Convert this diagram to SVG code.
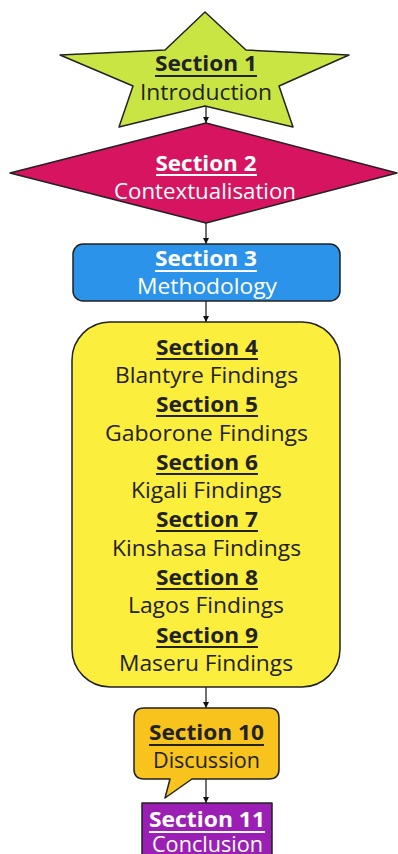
<svg xmlns="http://www.w3.org/2000/svg" width="398" height="854" viewBox="0 0 398 854">
<defs>
<style>
.shape{stroke:#222;stroke-width:1.5;stroke-linejoin:round}
.t{font-family:"Open Sans","Noto Sans","Liberation Sans",sans-serif;font-size:22px;text-anchor:middle}
.b{font-weight:700}
.dark{fill:#222}
.light{fill:#fff}
.ulD{stroke:#222;stroke-width:2}
.ulL{stroke:#fff;stroke-width:2}
.conn{stroke:#111;stroke-width:1.2;fill:none;marker-end:url(#ah)}
</style>
<marker id="ah" viewBox="0 0 10 10" refX="10" refY="5" markerWidth="6" markerHeight="7" markerUnits="userSpaceOnUse" orient="auto">
<path d="M0,0 L10,5 L0,10 Z" fill="#111"/>
</marker>
</defs>
<rect width="398" height="854" fill="#fff"/>

<g id="connectors">
<line class="conn" x1="206" y1="106" x2="206" y2="123"/>
<line class="conn" x1="206" y1="223" x2="206" y2="244"/>
<line class="conn" x1="206" y1="301" x2="206" y2="322"/>
<line class="conn" x1="206" y1="687" x2="206" y2="708"/>
<line class="conn" x1="206" y1="779" x2="206" y2="803"/>
</g>

<g id="section1">
<polygon class="shape" fill="#c9e544" points="205,12 246,50 349,55 279,86 293,127 205,106 119,127 133,86 60,55 165,50"/>
<text class="t b dark" x="206" y="71" textLength="102" lengthAdjust="spacingAndGlyphs">Section 1</text>
<line class="ulD" x1="155" y1="76" x2="257" y2="76"/>
<text class="t dark" x="206" y="100" textLength="132" lengthAdjust="spacingAndGlyphs">Introduction</text>
</g>

<g id="section2">
<polygon class="shape" fill="#d6145f" points="206,123 397,173 206,223 10,173"/>
<text class="t b light" x="206" y="171" textLength="101" lengthAdjust="spacingAndGlyphs">Section 2</text>
<line class="ulL" x1="156" y1="175" x2="257" y2="175"/>
<text class="t light" x="205" y="199" textLength="182" lengthAdjust="spacingAndGlyphs">Contextualisation</text>
</g>

<g id="section3">
<rect class="shape" fill="#2b93ea" x="73" y="244" width="267" height="57" rx="10"/>
<text class="t b light" x="206" y="266" textLength="102" lengthAdjust="spacingAndGlyphs">Section 3</text>
<line class="ulL" x1="155" y1="271" x2="257" y2="271"/>
<text class="t light" x="207" y="294" textLength="140" lengthAdjust="spacingAndGlyphs">Methodology</text>
</g>

<g id="sections4to9">
<rect class="shape" fill="#fbee3d" x="72" y="322" width="268" height="365" rx="38"/>
<text class="t b dark" x="207" y="355" textLength="102" lengthAdjust="spacingAndGlyphs">Section 4</text>
<line class="ulD" x1="156" y1="359" x2="258" y2="359"/>
<text class="t dark" x="206.5" y="383" textLength="183" lengthAdjust="spacingAndGlyphs">Blantyre Findings</text>
<text class="t b dark" x="207" y="412" textLength="102" lengthAdjust="spacingAndGlyphs">Section 5</text>
<line class="ulD" x1="156" y1="416" x2="258" y2="416"/>
<text class="t dark" x="206.5" y="441" textLength="203" lengthAdjust="spacingAndGlyphs">Gaborone Findings</text>
<text class="t b dark" x="207" y="470" textLength="102" lengthAdjust="spacingAndGlyphs">Section 6</text>
<line class="ulD" x1="156" y1="474" x2="258" y2="474"/>
<text class="t dark" x="206.5" y="498" textLength="151" lengthAdjust="spacingAndGlyphs">Kigali Findings</text>
<text class="t b dark" x="207" y="527" textLength="102" lengthAdjust="spacingAndGlyphs">Section 7</text>
<line class="ulD" x1="156" y1="531" x2="258" y2="531"/>
<text class="t dark" x="206.5" y="556" textLength="189" lengthAdjust="spacingAndGlyphs">Kinshasa Findings</text>
<text class="t b dark" x="207" y="585" textLength="102" lengthAdjust="spacingAndGlyphs">Section 8</text>
<line class="ulD" x1="156" y1="589" x2="258" y2="589"/>
<text class="t dark" x="206" y="613" textLength="156" lengthAdjust="spacingAndGlyphs">Lagos Findings</text>
<text class="t b dark" x="207" y="643" textLength="102" lengthAdjust="spacingAndGlyphs">Section 9</text>
<line class="ulD" x1="156" y1="647" x2="258" y2="647"/>
<text class="t dark" x="206" y="671" textLength="174" lengthAdjust="spacingAndGlyphs">Maseru Findings</text>
</g>

<g id="section10">
<path class="shape" fill="#f8c31d" d="M144,708 H269 Q279,708 279,718 V769 Q279,779 269,779 H192 L165,798 L170,779 H144 Q134,779 134,769 V718 Q134,708 144,708 Z"/>
<text class="t b dark" x="206.5" y="740" textLength="115" lengthAdjust="spacingAndGlyphs">Section 10</text>
<line class="ulD" x1="149" y1="745" x2="264" y2="745"/>
<text class="t dark" x="206.5" y="768" textLength="107" lengthAdjust="spacingAndGlyphs">Discussion</text>
</g>

<g id="section11">
<rect class="shape" fill="#9b1fb5" x="142" y="803" width="130" height="70"/>
<text class="t b light" x="207" y="827" textLength="116" lengthAdjust="spacingAndGlyphs">Section 11</text>
<line class="ulL" x1="149" y1="832" x2="265" y2="832"/>
<text class="t light" x="207.5" y="852" textLength="111" lengthAdjust="spacingAndGlyphs">Conclusion</text>
</g>
</svg>
